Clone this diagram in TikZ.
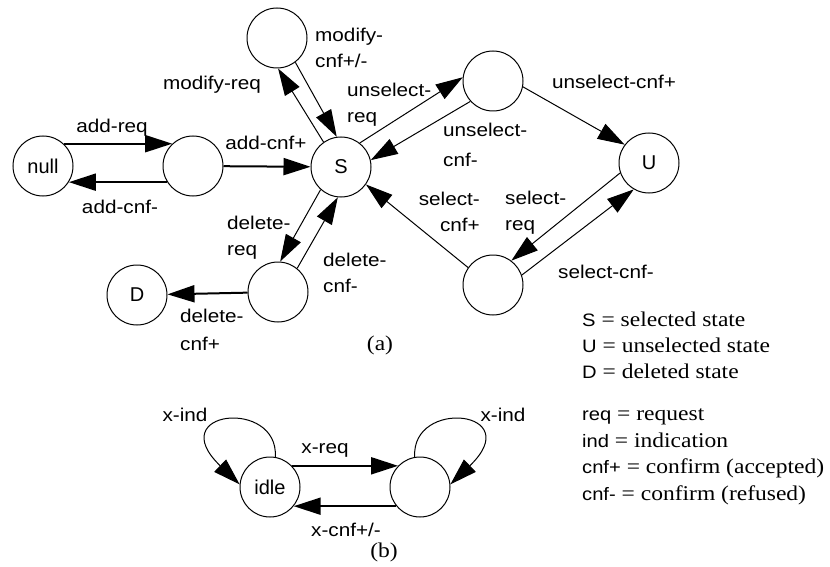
\documentclass[tikz,border=0pt]{standalone}
\usepackage{fontspec}
\usetikzlibrary{arrows.meta}
\newfontfamily\nodefont{Liberation Sans}
\newfontfamily\lblfont[FakeStretch=1.12]{Liberation Sans}
\newfontfamily\txtfont[FakeStretch=1.12]{Liberation Serif}
\newcommand\sfpart[1]{{\lblfont\fontsize{18}{21}\selectfont #1}}

\tikzset{
  state/.style={circle, draw, line width=1pt, minimum size=60pt, inner sep=0pt,
    font=\nodefont\fontsize{20}{24}\selectfont},
  lbl/.style={inner sep=0pt, font=\lblfont\fontsize{18.5}{26}\selectfont},
  note/.style={inner sep=0pt, font=\txtfont\fontsize{21}{26}\selectfont},
  legend/.style={note, anchor=base west},
  arr/.style={line width=1pt, -{Triangle[length=27pt,width=17pt]}},
  harr/.style={arr, line width=2pt},
}

\begin{document}
\begin{tikzpicture}[x=1pt,y=-1pt]
\useasboundingbox (0,0) rectangle (830,567);

% ---- (a) life cycle of a selected item ----
\node[state] (null)  at (43,166)  {null};
\node[state] (add)   at (193,166) {};
\node[state] (S)     at (341,167) {S};
\node[state] (mod)   at (277,38)  {};
\node[state] (unsel) at (493,81)  {};
\node[state] (U)     at (649,163) {U};
\node[state] (sel)   at (493,285) {};
\node[state] (del)   at (278,292) {};
\node[state] (D)     at (137,295) {D};

\draw[harr] (null.47) -- (add.133);
\draw[harr] (add.212) -- (null.-32);
\draw[harr] (add) -- (S);
\draw[arr] (S.125) -- (mod.-88);
\draw[arr] (mod.-53) -- (S.98);
\draw[arr] (S.52) -- (unsel.173);
\draw[arr] (unsel.-138) -- (S.13);
\draw[arr] (unsel.-11) -- (U.143);
\draw[arr] (U.-161) -- (sel.53);
\draw[arr] (sel.19) -- (U.-120);
\draw[arr] (sel.145) -- (S.-35);
\draw[arr] (S.-132) -- (del.86);
\draw[arr] (del.51) -- (S.-96);
\draw[harr] (del) -- (D);

\node[lbl] (tAddReq) at (112,128) {add-req};
\node[lbl] (tAddNeg) at (120,207) {add-cnf-};
\node[lbl] (tAddPos) at (266,143) {add-cnf+};
\node[lbl] (tModReq) at (212,85)  {modify-req};
\node[lbl, anchor=west, align=left] (tModCnf) at (315,48) {modify-\\cnf+/-};
\node[lbl, anchor=west, align=left] (tUnsReq) at (347,105) {unselect-\\req};
\node[lbl, anchor=west, align=left, font=\lblfont\fontsize{18.5}{30}\selectfont] (tUnsNeg) at (443,145) {unselect-\\cnf-};
\node[lbl] (tUnsPos) at (614,82) {unselect-cnf+};
\node[lbl, anchor=east, align=right] (tSelPos) at (480,212) {select-\\cnf+};
\node[lbl, anchor=west, align=left] (tSelReq) at (505,213) {select-\\req};
\node[lbl, anchor=west] (tSelNeg) at (558,272) {select-cnf-};
\node[lbl, anchor=west, align=left] (tDelReq) at (227,238) {delete-\\req};
\node[lbl, anchor=west, align=left] (tDelNeg) at (323,273) {delete-\\cnf-};
\node[lbl, anchor=west, align=left, font=\lblfont\fontsize{18.5}{28}\selectfont] (tDelPos) at (180,330) {delete-\\cnf+};
\node[note] (capA) at (380,345) {(a)};

% ---- (b) generic request/confirm pattern ----
\node[state] (idle) at (270,487) {idle};
\node[state] (busy) at (420,487) {};

\draw[harr] (idle.44) -- (busy.136);
\draw[harr] (busy.219) -- (idle.-39);
\draw[arr] (idle.80) .. controls (279,398) and (162,410) .. (idle.175);
\draw[arr] (busy.100) .. controls (411,398) and (528,410) .. (busy.5);

\node[lbl] (tIndL) at (185,415) {x-ind};
\node[lbl] (tIndR) at (503,415) {x-ind};
\node[lbl] (tXReq) at (325,450) {x-req};
\node[lbl] (tXCnf) at (346,530) {x-cnf+/-};
\node[note] (capB) at (384,552) {(b)};

% ---- key ----
\node[legend] (k1) at (582,326) {\sfpart{S} = selected state};
\node[legend] (k2) at (582,352) {\sfpart{U} = unselected state};
\node[legend] (k3) at (582,378) {\sfpart{D} = deleted state};
\node[legend] (k4) at (582,420) {\sfpart{req} = request};
\node[legend] (k5) at (582,447) {\sfpart{ind} = indication};
\node[legend] (k6) at (582,473) {\sfpart{cnf+} = confirm (accepted)};
\node[legend] (k7) at (582,500) {\sfpart{cnf-} = confirm (refused)};
\end{tikzpicture}
\end{document}
